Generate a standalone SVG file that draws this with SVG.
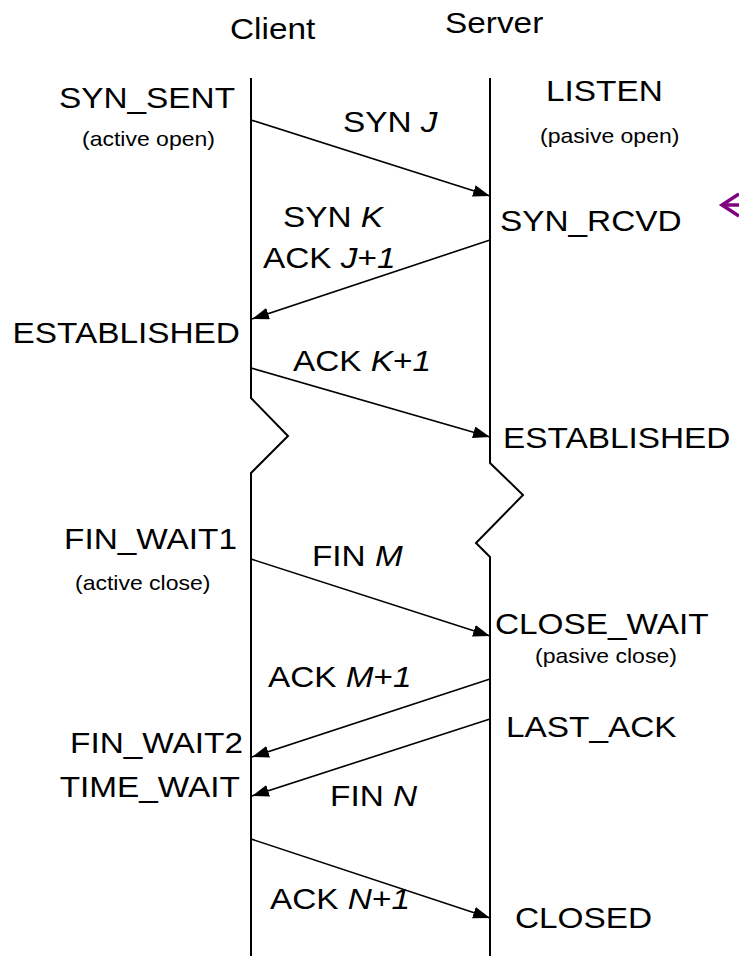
<svg xmlns="http://www.w3.org/2000/svg" width="739" height="956" viewBox="0 0 739 956">
  <style>
    .life { fill: none; stroke: #000; stroke-width: 2; stroke-linejoin: miter; }
    .msg { fill: none; stroke: #000; stroke-width: 1.6; marker-end: url(#head); }
    text { font-family: "Liberation Sans", Arial, Helvetica, sans-serif; fill: #000; }
    .big { font-size: 29px; }
    .small { font-size: 20px; }
    .v { font-style: italic; }
    .ptr { fill: none; stroke: #800080; stroke-width: 3.5; stroke-linecap: butt; }
  </style>
  <defs>
    <marker id="head" viewBox="0 0 17 12" refX="17" refY="6" markerWidth="17" markerHeight="12" markerUnits="userSpaceOnUse" orient="auto">
      <path d="M0,0 L17,6 L0,12 z" fill="#000"/>
    </marker>
  </defs>
  <rect width="739" height="956" fill="#fff"/>

  <!-- lifelines with break marks -->
  <g id="client">
    <polyline class="life" points="251,78 251,398 288,436 251,473 251,956"/>
  </g>
  <g id="server">
    <polyline class="life" points="490,78 490,463 523,495 476,543 490,557 490,956"/>
  </g>

  <!-- segments exchanged between the two hosts -->
  <g id="connectors">
    <line class="msg" x1="251" y1="120" x2="490" y2="196"/>
    <line class="msg" x1="490" y1="240" x2="252" y2="319"/>
    <line class="msg" x1="251" y1="368" x2="490" y2="437"/>
    <line class="msg" x1="251" y1="559" x2="490" y2="636"/>
    <line class="msg" x1="490" y1="679" x2="252" y2="757"/>
    <line class="msg" x1="490" y1="719" x2="252" y2="796"/>
    <line class="msg" x1="251" y1="839" x2="490" y2="918"/>
  </g>

  <!-- pointer at the right edge -->
  <g id="pointer">
    <polyline class="ptr" points="739,194 722,205 739,216"/>
    <line class="ptr" x1="723" y1="205" x2="739" y2="205"/>
  </g>

  <!-- labels, drawn slightly wide -->
  <g id="labels" transform="scale(1.15,1)">
    <text class="big" x="200" y="39">Client</text>
    <text class="big" x="387" y="33">Server</text>

    <g id="s-syn-sent"><text class="big" x="51.3" y="108">SYN_SENT</text>
      <text class="small" x="71.3" y="146">(active open)</text></g>
    <g id="s-listen"><text class="big" x="474.8" y="101">LISTEN</text>
      <text class="small" x="469.6" y="143">(pasive open)</text></g>
    <text class="big" x="298.3" y="132">SYN <tspan class="v">J</tspan></text>

    <g id="s-syn-rcvd"><text class="big" x="434.8" y="231">SYN_RCVD</text></g>
    <text class="big" x="246.1" y="227">SYN <tspan class="v">K</tspan></text>
    <text class="big" x="228.7" y="268">ACK <tspan class="v">J</tspan>+<tspan class="v">1</tspan></text>

    <g id="s-est-client"><text class="big" x="10.9" y="343">ESTABLISHED</text></g>
    <text class="big" x="254.8" y="371">ACK <tspan class="v">K</tspan>+<tspan class="v">1</tspan></text>
    <g id="s-est-server"><text class="big" x="437.4" y="448">ESTABLISHED</text></g>

    <g id="s-fin-wait1"><text class="big" x="206.1" y="549" text-anchor="end">FIN_WAIT1</text>
      <text class="small" x="65.2" y="590">(active close)</text></g>
    <text class="big" x="271.3" y="566">FIN <tspan class="v">M</tspan></text>

    <g id="s-close-wait"><text class="big" x="430.4" y="634">CLOSE_WAIT</text>
      <text class="small" x="465.2" y="663">(pasive close)</text></g>
    <text class="big" x="233" y="687">ACK <tspan class="v">M</tspan>+<tspan class="v">1</tspan></text>
    <g id="s-last-ack"><text class="big" x="440" y="737">LAST_ACK</text></g>

    <g id="s-fin-wait2"><text class="big" x="211.3" y="753" text-anchor="end">FIN_WAIT2</text></g>
    <g id="s-time-wait"><text class="big" x="208.7" y="797" text-anchor="end">TIME_WAIT</text></g>
    <text class="big" x="287" y="806">FIN <tspan class="v">N</tspan></text>

    <text class="big" x="234.8" y="909">ACK <tspan class="v">N</tspan>+<tspan class="v">1</tspan></text>
    <g id="s-closed"><text class="big" x="447.8" y="928">CLOSED</text></g>
  </g>
</svg>
